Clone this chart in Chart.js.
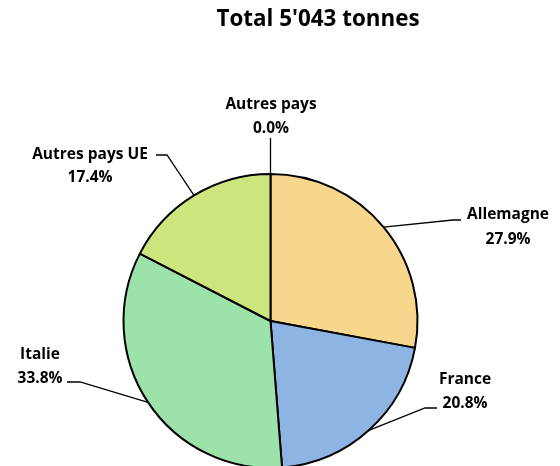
<!DOCTYPE html>
<html>
<head>
<meta charset="utf-8">
<script src="https://cdn.jsdelivr.net/npm/chart.js@4/dist/chart.umd.min.js"></script>
<style>
html,body{margin:0;padding:0;background:#fff;overflow:hidden;width:560px;height:466px;}
#wrap{position:relative;width:560px;height:466px;overflow:hidden;}
#box{position:absolute;left:0;top:0;width:560px;height:642px;}
</style>
</head>
<body>
<div id="wrap"><div id="box"><canvas id="c"></canvas></div></div>
<script>
const titleText = "Total 5'043 tonnes";
const categories = ["Allemagne", "France", "Italie", "Autres pays UE", "Autres pays"];
const shares = [27.9, 20.8, 33.8, 17.4, 0.0];
const colors = ["#F8D78C", "#8EB4E3", "#9DE2AB", "#CDE57D", "#E46C0A"];

// label layout (text centres, elbow and end of leader line)
const labelLayout = [
  {tx: 508, ty1: 215, ty2: 240, elbow: [453, 220], end: [461, 220]},
  {tx: 465, ty1: 380, ty2: 404, elbow: [425, 408], end: [437, 408]},
  {tx: 40,  ty1: 355, ty2: 379, elbow: [80, 382],  end: [67, 382]},
  {tx: 90,  ty1: 155, ty2: 178, elbow: [167, 155], end: [156, 155]},
  {tx: 271, ty1: 105, ty2: 129, elbow: null, end: [270.5, 138]}
];
const FONT = "bold 15.5px 'Open Sans', 'Liberation Sans', sans-serif";
const TITLE_FONT = "bold 22.4px 'Open Sans', 'Liberation Sans', sans-serif";

const labelPlugin = {
  id: 'pieLabels',
  afterDatasetsDraw(chart) {
    const ctx = chart.ctx;
    const meta = chart.getDatasetMeta(0);
    ctx.save();
    ctx.fillStyle = '#000';
    ctx.font = TITLE_FONT;
    ctx.textAlign = 'center';
    ctx.textBaseline = 'middle';
    ctx.fillText(titleText, 318, 20);
    meta.data.forEach((arc, i) => {
      const L = labelLayout[i];
      const mid = (arc.startAngle + arc.endAngle) / 2;
      const sx = arc.x + arc.outerRadius * Math.cos(mid);
      const sy = arc.y + arc.outerRadius * Math.sin(mid);
      ctx.strokeStyle = '#000';
      ctx.lineWidth = 1.3;
      ctx.beginPath();
      ctx.moveTo(sx, sy);
      if (L.elbow) ctx.lineTo(L.elbow[0], L.elbow[1]);
      ctx.lineTo(L.end[0], L.end[1]);
      ctx.stroke();
      ctx.font = FONT;
      ctx.fillStyle = '#000';
      ctx.textAlign = 'center';
      ctx.textBaseline = 'middle';
      ctx.fillText(categories[i], L.tx, L.ty1);
      ctx.fillText(shares[i].toFixed(1) + '%', L.tx, L.ty2);
    });
    ctx.restore();
  }
};

new Chart(document.getElementById('c'), {
  type: 'pie',
  data: {
    labels: categories,
    datasets: [{
      data: shares,
      backgroundColor: colors,
      borderColor: '#000',
      borderWidth: 2,
      radius: 147
    }]
  },
  options: {
    responsive: true,
    maintainAspectRatio: false,
    animation: false,
    layout: {padding: {left: 0, right: 19, top: 0, bottom: 0}},
    plugins: {legend: {display: false}, tooltip: {enabled: false}, title: {display: false}}
  },
  plugins: [labelPlugin]
});
</script>
</body>
</html>
